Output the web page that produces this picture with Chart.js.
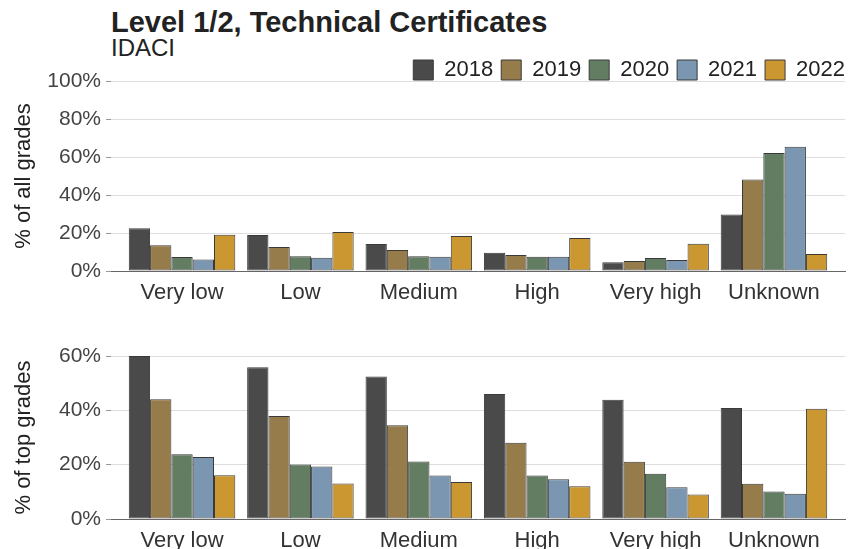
<!DOCTYPE html>
<html>
<head>
<meta charset="utf-8">
<script src="https://cdn.jsdelivr.net/npm/chart.js@4.4.0/dist/chart.umd.min.js"></script>
<style>
  html, body { margin: 0; padding: 0; background: #fff; overflow: hidden; }
  body { width: 850px; height: 549px; position: relative; font-family: "Liberation Sans", Arial, sans-serif; }
  .title { position: absolute; left: 111px; top: 6px; font-size: 29px; font-weight: bold; color: #222; white-space: nowrap; }
  .subtitle { position: absolute; left: 111px; top: 34px; font-size: 24px; color: #222; white-space: nowrap; }
  .wrap { position: absolute; left: 0; width: 850px; }
</style>
</head>
<body>
<div class="title">Level 1/2, Technical Certificates</div>
<div class="subtitle">IDACI</div>
<div class="wrap" id="wrapAll" style="top:51px;height:260px"><canvas id="cAll"></canvas></div>
<div class="wrap" id="wrapTop" style="top:336px;height:223px"><canvas id="cTop"></canvas></div>
<script>
// ===== IDACI bands, share of grades by year =====
const categories = ['Very low', 'Low', 'Medium', 'High', 'Very high', 'Unknown'];
const years = ['2018', '2019', '2020', '2021', '2022'];
const colours = ['#4a4a4a', '#967c4a', '#627d62', '#7b96b1', '#ca9731'];

// % of all grades, one array per year (categories order)
const all2018 = [22.5, 18.9, 14.2, 9.6, 4.6, 29.8];
const all2019 = [13.5, 12.6, 11.0, 8.4, 5.3, 48.1];
const all2020 = [7.4, 7.7, 7.7, 7.5, 6.8, 62.1];
const all2021 = [6.1, 7.0, 7.5, 7.5, 5.8, 65.4];
const all2022 = [19.1, 20.5, 18.4, 17.4, 14.4, 8.9];

// % of top grades
const top2018 = [60.0, 55.9, 52.5, 46.0, 43.9, 40.9];
const top2019 = [44.1, 37.9, 34.5, 28.1, 21.1, 13.0];
const top2020 = [23.8, 20.1, 21.2, 16.0, 16.7, 10.1];
const top2021 = [22.8, 19.3, 16.0, 14.6, 11.7, 9.3];
const top2022 = [16.1, 13.1, 13.6, 12.1, 9.0, 40.6];

const allTicks = [0, 20, 40, 60, 80, 100];
const topTicks = [0, 20, 40, 60];

const FONT = '"Liberation Sans", Arial, sans-serif';
const LEG_PAD = 8;

// legend: no bottom gap, last label flush with the panel's right edge
const legendFit = {
    id: 'legendFit',
    beforeUpdate(chart) {
        const lg = chart.legend;
        if (!lg || lg._tight) return;
        const fit = lg.fit;
        lg.fit = function () {
            fit.call(this);
            this.height = LEG_PAD + 22;
        };
        lg._tight = true;
    },
    afterLayout(chart) {
        const lg = chart.legend;
        if (!lg) return;
        lg.left += LEG_PAD;
        lg.right += LEG_PAD;
    }
};

function datasets(rows) {
    return rows.map((vals, i) => ({
        label: years[i],
        data: vals.map((v, j) => ({ x: j, y: v })),
        backgroundColor: colours[i],
        borderColor: '#3a3a3a',
        borderWidth: 1,
        borderSkipped: false,
        categoryPercentage: 0.9,
        barPercentage: 1.0
    }));
}

function makeChart(id, rows, yTitle, tickVals, showLegend, padTop) {
    const yMax = tickVals[tickVals.length - 1];
    return new Chart(document.getElementById(id).getContext('2d'), {
        type: 'bar',
        data: { datasets: datasets(rows) },
        options: {
            responsive: true, maintainAspectRatio: false, animation: false,
            layout: { padding: { left: 0, right: 5, top: padTop, bottom: 0 } },
            scales: {
                x: {
                    type: 'linear', min: -0.6, max: 5.6, offset: false,
                    grid: { display: false },
                    border: { display: true, color: '#666', width: 1 },
                    ticks: {
                        stepSize: 1, includeBounds: false, autoSkip: false, maxRotation: 0, padding: 1,
                        color: '#333', font: { family: FONT, size: 22 },
                        callback: v => categories[v] ?? ''
                    },
                    afterFit: s => { s.height = 40; }
                },
                y: {
                    min: 0, max: yMax,
                    afterBuildTicks: s => { s.ticks = tickVals.map(v => ({ value: v })); },
                    grid: {
                        color: c => c.tick && c.tick.value === 0 ? 'rgba(0,0,0,0)' : '#dedede',
                        tickColor: '#999', tickLength: 5, lineWidth: 1
                    },
                    border: { display: false },
                    ticks: { padding: 5, color: '#444', font: { family: FONT, size: 21 }, callback: v => v + '%' },
                    title: { display: true, text: yTitle, color: '#222', font: { family: FONT, size: 22 }, padding: { top: 11, bottom: 4 } },
                    afterFit: s => { s.width = 111; }
                }
            },
            plugins: {
                legend: {
                    display: showLegend, position: 'top', align: 'end',
                    labels: { boxWidth: 20, boxHeight: 20, padding: LEG_PAD, color: '#222', font: { family: FONT, size: 22 } }
                },
                tooltip: { enabled: false }
            }
        },
        plugins: showLegend ? [legendFit] : []
    });
}

makeChart('cAll', [all2018, all2019, all2020, all2021, all2022], '% of all grades', allTicks, true, 0);
makeChart('cTop', [top2018, top2019, top2020, top2021, top2022], '% of top grades', topTicks, false, 20);
</script>
</body>
</html>
